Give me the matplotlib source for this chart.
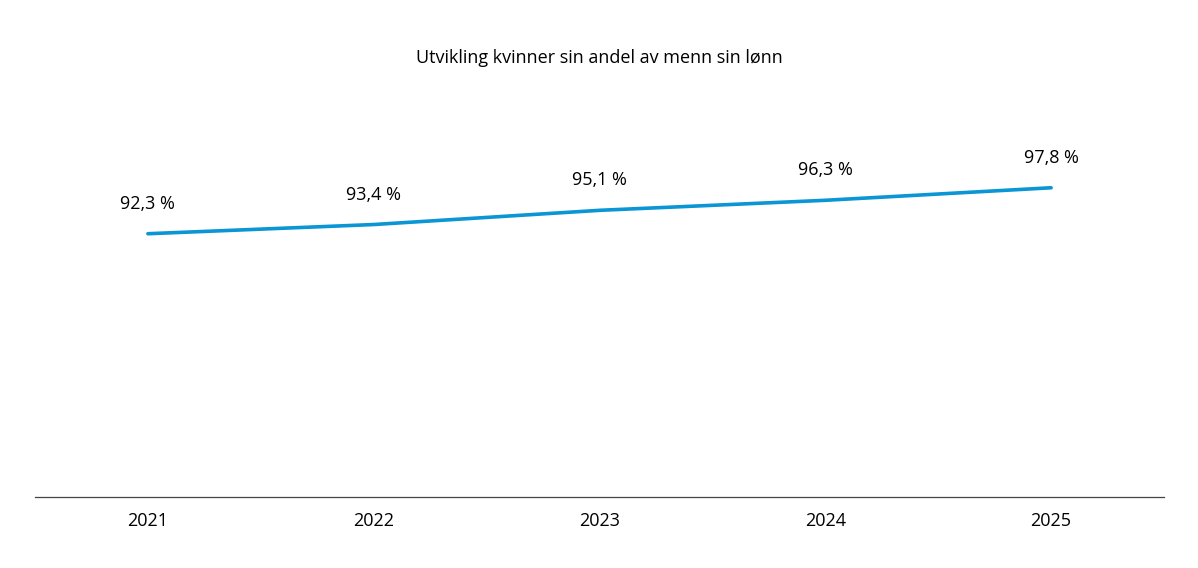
import matplotlib
matplotlib.use('Agg')
import matplotlib.pyplot as plt

years = ['2021', '2022', '2023', '2024', '2025']
andel = [92.3, 93.4, 95.1, 96.3, 97.8]
labels = ['92,3 %', '93,4 %', '95,1 %', '96,3 %', '97,8 %']

plt.rcParams['font.family'] = ['Open Sans', 'DejaVu Sans']

fig = plt.figure(figsize=(11.98, 5.68), dpi=100)
ax = fig.add_axes([35 / 1198, 71 / 568, 1129 / 1198, 397 / 568])

x = range(len(years))
ax.plot(x, andel, color='#0a95d5', linewidth=2.6, solid_capstyle='round')
for i, v in enumerate(andel):
    ax.annotate(labels[i], (i, v), xytext=(0, 15), textcoords='offset points',
                ha='center', va='bottom', fontsize=13, color='black')

ax.set_xlim(-0.5, 4.5)
ax.set_ylim(60.8, 108.3)
ax.set_xticks(list(x))
ax.set_xticklabels(years, fontsize=13)
ax.tick_params(axis='x', length=0, pad=11)
ax.set_yticks([])
for s in ['top', 'left', 'right']:
    ax.spines[s].set_visible(False)
ax.spines['bottom'].set_color('#444444')
ax.spines['bottom'].set_linewidth(0.9)

fig.text(0.5, 1 - 58 / 568, 'Utvikling kvinner sin andel av menn sin lønn',
         ha='center', va='center', fontsize=13)

fig.savefig('out.png', dpi=100)
